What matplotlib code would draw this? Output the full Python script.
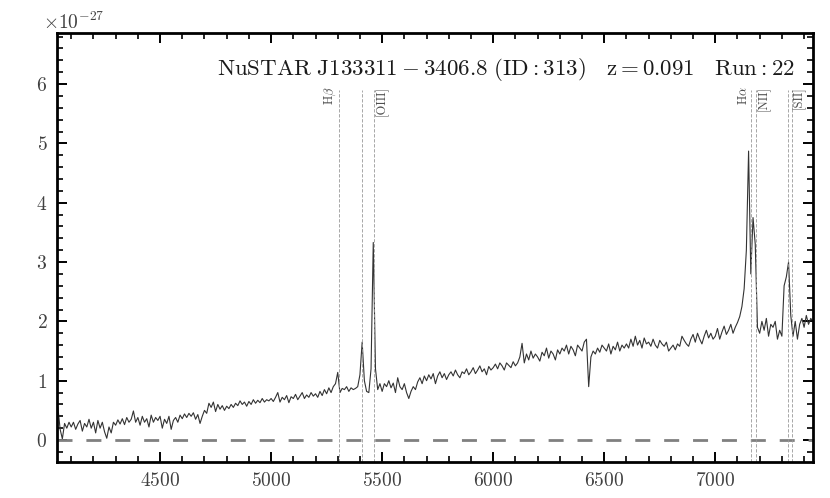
import numpy as np
import matplotlib
matplotlib.use("Agg")
import matplotlib.pyplot as plt
from matplotlib.ticker import MultipleLocator, ScalarFormatter

plt.rcParams['font.family'] = 'serif'
plt.rcParams['font.serif'] = ['cmr10', 'DejaVu Serif']
plt.rcParams['mathtext.fontset'] = 'cm'
plt.rcParams['axes.formatter.use_mathtext'] = True
plt.rcParams['axes.unicode_minus'] = False

# observed wavelength grid (Angstrom), 10 A sampling
wave_start = 4040
wave_step = 10

# flux in units of 1e-27 (one list per 100 A block)
flux_blocks = [
    [0.55, 0.18, 0.02, 0.28, 0.20, 0.30],                                   # 4040-4090
    [0.22, 0.30, 0.18, 0.27, 0.33, 0.15, 0.28, 0.22, 0.35, 0.20],           # 4100
    [0.30, 0.12, 0.33, 0.20, 0.30, 0.14, 0.03, 0.22, 0.12, 0.30],           # 4200
    [0.25, 0.34, 0.27, 0.36, 0.26, 0.38, 0.30, 0.35, 0.49, 0.30],           # 4300
    [0.38, 0.25, 0.40, 0.30, 0.36, 0.22, 0.42, 0.30, 0.38, 0.33],           # 4400
    [0.40, 0.20, 0.35, 0.28, 0.40, 0.18, 0.33, 0.38, 0.30, 0.42],           # 4500
    [0.36, 0.44, 0.38, 0.45, 0.40, 0.46, 0.35, 0.43, 0.28, 0.40],           # 4600
    [0.50, 0.45, 0.62, 0.55, 0.64, 0.48, 0.60, 0.52, 0.58, 0.50],           # 4700
    [0.57, 0.53, 0.60, 0.55, 0.62, 0.58, 0.66, 0.60, 0.64, 0.57],           # 4800
    [0.65, 0.60, 0.68, 0.62, 0.67, 0.63, 0.70, 0.64, 0.68, 0.66],           # 4900
    [0.70, 0.65, 0.72, 0.80, 0.64, 0.72, 0.68, 0.75, 0.63, 0.73],           # 5000
    [0.70, 0.77, 0.68, 0.74, 0.80, 0.70, 0.76, 0.72, 0.80, 0.74],           # 5100
    [0.78, 0.72, 0.82, 0.75, 0.85, 0.78, 0.88, 0.80, 0.90, 0.95],           # 5200
    [1.14, 0.80, 0.87, 0.85, 0.90, 0.82, 0.88, 0.85, 0.87, 0.90],           # 5300
    [1.10, 1.65, 1.00, 0.82, 0.80, 1.20, 3.33, 1.20, 0.85, 0.95],           # 5400
    [0.82, 0.95, 0.90, 1.00, 0.88, 0.96, 0.80, 1.05, 0.90, 0.85],           # 5500
    [0.95, 0.80, 0.70, 0.82, 0.90, 0.85, 0.98, 1.05, 0.95, 1.08],           # 5600
    [1.00, 1.10, 1.03, 1.12, 0.95, 1.08, 1.15, 1.05, 1.12, 1.02],           # 5700
    [1.10, 1.15, 1.08, 1.18, 1.10, 1.05, 1.15, 1.12, 1.20, 1.10],           # 5800
    [1.15, 1.22, 1.12, 1.18, 1.25, 1.15, 1.20, 1.10, 1.24, 1.18],           # 5900
    [1.22, 1.28, 1.20, 1.30, 1.25, 1.18, 1.30, 1.26, 1.22, 1.32],           # 6000
    [1.25, 1.30, 1.40, 1.63, 1.30, 1.45, 1.35, 1.50, 1.38, 1.45],           # 6100
    [1.40, 1.33, 1.48, 1.42, 1.55, 1.38, 1.50, 1.45, 1.35, 1.52],           # 6200
    [1.45, 1.55, 1.50, 1.60, 1.45, 1.58, 1.52, 1.42, 1.60, 1.55],           # 6300
    [1.50, 1.65, 1.70, 0.90, 1.40, 1.50, 1.45, 1.55, 1.48, 1.60],           # 6400
    [1.55, 1.50, 1.62, 1.45, 1.58, 1.52, 1.65, 1.50, 1.60, 1.55],           # 6500
    [1.62, 1.55, 1.70, 1.58, 1.75, 1.60, 1.68, 1.55, 1.72, 1.62],           # 6600
    [1.65, 1.58, 1.70, 1.60, 1.55, 1.68, 1.62, 1.58, 1.65, 1.50],           # 6700
    [1.55, 1.60, 1.52, 1.62, 1.58, 1.75, 1.68, 1.62, 1.58, 1.70],           # 6800
    [1.78, 1.65, 1.80, 1.70, 1.62, 1.75, 1.85, 1.72, 1.80, 1.70],           # 6900
    [1.75, 1.88, 1.70, 1.82, 1.92, 1.78, 1.85, 1.95, 1.80, 1.90],           # 7000
    [1.98, 2.08, 2.25, 2.55, 3.20, 4.87, 2.80, 3.75, 3.30, 1.90],           # 7100
    [1.80, 2.00, 1.85, 2.05, 1.75, 1.95, 1.90, 2.00, 1.70, 1.85],           # 7200
    [1.75, 2.60, 2.75, 3.00, 2.10, 1.75, 2.00, 1.70, 1.95, 2.05],           # 7300
    [1.90, 2.10, 1.95, 2.05, 2.00],                                         # 7400
]

z = 0.091
line_rest = [4861.3, 4958.9, 5006.8, 6562.8, 6583.4, 6716.4, 6730.8]
line_labels = [r'H$\beta$', '', '[OIII]', r'H$\alpha$', '[NII]', '', '[SII]']
line_side = ['left', None, 'right', 'left', 'right', None, 'right']

title = r'$\mathrm{NuSTAR\ J133311-3406.8\ (ID:313)\quad z=0.091\quad Run:22}$'

flux = np.concatenate([np.array(b) for b in flux_blocks]) * 1e-27
wave = wave_start + wave_step * np.arange(len(flux))

fig = plt.figure(figsize=(8.3, 4.98), dpi=100)
ax = fig.add_axes([0.0687, 0.0723, 0.9108, 0.8614])

ax.plot(wave, flux, color='0.2', lw=0.8)
ax.axhline(0, color='0.5', lw=2, dashes=(5.4, 5))

ymin, ymax = -0.37e-27, 6.86e-27
top_line = 5.9e-27
for rest, lab, side in zip(line_rest, line_labels, line_side):
    x = rest * (1 + z)
    ax.vlines(x, ymin, top_line, colors='0.6', lw=0.6, linestyles=(0, (4, 2)))
    if lab:
        dx = -4 if side == 'left' else 4
        ax.text(x + dx, 5.97e-27, lab, rotation=90, fontsize=9,
                ha=('right' if side == 'left' else 'left'), va='top', color='0.3')

ax.text(0.976, 0.914, title, transform=ax.transAxes, ha='right', va='center',
        fontsize=16.5, color='0.1')

ax.set_xlim(4036, 7440)
ax.set_ylim(ymin, ymax)
ax.xaxis.set_major_locator(MultipleLocator(500))
ax.xaxis.set_minor_locator(MultipleLocator(100))
ax.yaxis.set_major_locator(MultipleLocator(1e-27))
ax.yaxis.set_minor_locator(MultipleLocator(0.2e-27))
fmt = ScalarFormatter(useMathText=True)
fmt.set_powerlimits((0, 0))
ax.yaxis.set_major_formatter(fmt)

for s in ax.spines.values():
    s.set_linewidth(2.0)
ax.tick_params(which='both', direction='in', top=True, right=True, labelsize=14,
               colors='black', labelcolor='0.25')
ax.tick_params(which='major', length=7.5, width=1.4, pad=7)
ax.tick_params(which='minor', length=4, width=1.2)
off = ax.yaxis.get_offset_text()
off.set_fontsize(14)
off.set_color('0.25')
off.set_horizontalalignment('left')
off.set_x(-0.018)

fig.savefig('out.png', dpi=100)
